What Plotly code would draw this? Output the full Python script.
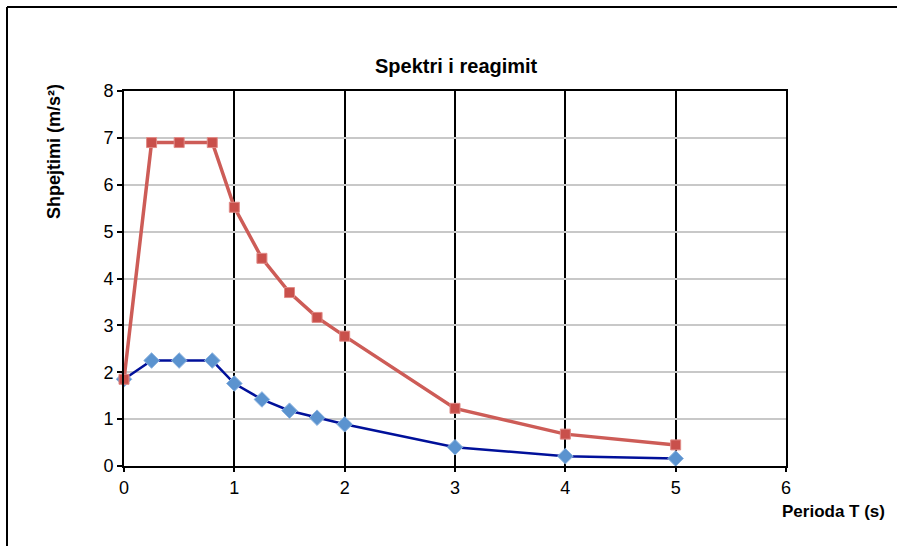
import plotly.graph_objects as go

periods = [0, 0.25, 0.5, 0.8, 1, 1.25, 1.5, 1.75, 2, 3, 4, 5]
red_series = [1.85, 6.9, 6.9, 6.9, 5.52, 4.43, 3.70, 3.17, 2.77, 1.23, 0.68, 0.45]
blue_series = [1.85, 2.25, 2.25, 2.25, 1.76, 1.42, 1.18, 1.03, 0.89, 0.40, 0.21, 0.16]
x_ticks = [0, 1, 2, 3, 4, 5, 6]
y_ticks = [0, 1, 2, 3, 4, 5, 6, 7, 8]

title_text = "Spektri i reagimit"
x_title = "Perioda T (s)"
y_title = "Shpejtimi (m/s²)"

FONT = "Liberation Sans, Arial, sans-serif"

fig = go.Figure()
fig.add_trace(go.Scatter(
    x=periods, y=blue_series, mode="lines+markers",
    line=dict(color="#00109A", width=2.5),
    marker=dict(symbol="diamond", size=12, color="#5B93CF",
                line=dict(color="#8DB4E0", width=1)),
    showlegend=False, cliponaxis=False))
fig.add_trace(go.Scatter(
    x=periods, y=red_series, mode="lines+markers",
    line=dict(color="#CD5C57", width=3.5),
    marker=dict(symbol="square", size=10, color="#C9504B",
                line=dict(color="#E08A86", width=1)),
    showlegend=False, cliponaxis=False))

fig.update_layout(
    width=897, height=546,
    margin=dict(l=124, r=111, t=91, b=80),
    paper_bgcolor="white", plot_bgcolor="white",
    font=dict(family=FONT, size=18, color="black"),
    xaxis=dict(range=[0, 6], tickvals=x_ticks, showgrid=True,
               gridcolor="black", gridwidth=1.5, zeroline=False,
               showline=True, linecolor="black", linewidth=2, mirror=True,
               ticks="outside", ticklen=4, tickcolor="black", tickwidth=2,
               tickfont=dict(size=18, family=FONT)),
    yaxis=dict(range=[0, 8], tickvals=y_ticks, showgrid=True,
               gridcolor="#C8C8C8", gridwidth=1.5, zeroline=False,
               showline=True, linecolor="black", linewidth=2, mirror=True,
               ticks="outside", ticklen=5, tickcolor="black", tickwidth=2,
               tickfont=dict(size=18, family=FONT)),
    annotations=[
        dict(text="<b>" + title_text + "</b>", xref="paper", yref="paper",
             x=(456 - 124) / 662, y=(466 - 66) / 375, xanchor="center",
             yanchor="middle", showarrow=False, font=dict(size=20, family=FONT)),
        dict(text="<b>" + x_title + "</b>", xref="paper", yref="paper",
             x=(780 - 124) / 662, y=(466 - 500) / 375, xanchor="left",
             yanchor="top", showarrow=False, font=dict(size=17, family=FONT)),
        dict(text="<b>" + y_title + "</b>", xref="paper", yref="paper",
             x=(54 - 124) / 662, y=(466 - 152) / 375, xanchor="center",
             yanchor="middle", textangle=-90, showarrow=False,
             font=dict(size=18, family=FONT)),
    ],
    shapes=[
        dict(type="line", xref="paper", yref="paper",
             x0=(7 - 124) / 662, x1=(897 - 124) / 662,
             y0=(466 - 7) / 375, y1=(466 - 7) / 375,
             line=dict(color="black", width=2), layer="below"),
        dict(type="line", xref="paper", yref="paper",
             x0=(7 - 124) / 662, x1=(7 - 124) / 662, y0=-0.4, y1=(466 - 7) / 375,
             line=dict(color="black", width=2), layer="below"),
    ],
)

fig.write_html("out.html")
